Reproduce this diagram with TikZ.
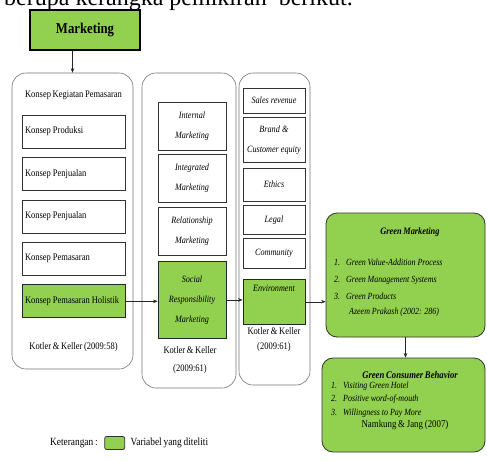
\documentclass[tikz,border=0pt]{standalone}
\usepackage{fontspec}
\setmainfont{Liberation Serif}[FakeStretch=0.85, WordSpace=0.8]
\newfontfamily\plainserif{Liberation Serif}
\usepackage{xcolor}
\usetikzlibrary{positioning,shapes,arrows.meta}
\definecolor{leafgreen}{RGB}{146,208,80}

\begin{document}
\begin{tikzpicture}[
		x=1pt, y=-1pt,
		outer/.style={rectangle, rounded corners=14pt, draw=black!55, semithick},
		block/.style={rectangle, draw=black!80, fill=white, thin, inner sep=2pt, execute at begin node={\spaceskip=0.2em plus 0.05em}},
		konsep/.style={block, minimum width=103pt, minimum height=33pt, text width=97pt, align=left, font=\fontsize{10}{12}\selectfont},
		strat/.style={block, minimum width=68pt, text width=64pt, align=center, font=\fontsize{9.6}{20}\selectfont\itshape},
		aspek/.style={block, minimum width=62pt, text width=58pt, align=center, font=\fontsize{9.6}{20}\selectfont\itshape},
		chosen/.style={fill=leafgreen, draw=black!85, thick},
		result/.style={rectangle, rounded corners=11pt, draw=black!80, fill=leafgreen, thick},
		caption/.style={align=center, font=\fontsize{10}{18}\selectfont},
		listing/.style={align=left, inner sep=0pt, font=\fontsize{9.4}{17}\selectfont\itshape, execute at begin node={\spaceskip=0.2em plus 0.05em}},
		flow/.style={-{Stealth[length=4.5pt, width=3.5pt]}, thin, black!85},
		auto,
		]
		\useasboundingbox (0,0) rectangle (487,461);

		%Heading
		\node[anchor=base west, inner sep=0pt, font=\plainserif\fontsize{24}{24}\selectfont] (intro) at (4,5) {berupa kerangka pemikiran\ \ berikut.};
		\node[rectangle, draw=black, line width=1.6pt, fill=leafgreen, minimum width=110pt, minimum height=40pt, font=\fontsize{15}{18}\selectfont\bfseries] (marketing) at (85,30) {Marketing};

		%Outer Boxes
		\node[outer, minimum width=121pt, minimum height=296pt] (kegiatan) at (72.5,221) {};
		\node[outer, minimum width=94pt, minimum height=315pt] (strategi) at (189,230.5) {};
		\node[outer, minimum width=71pt, minimum height=312pt] (aspek_box) at (274.5,229) {};

		%Konsep Kegiatan Pemasaran
		\node[caption]	(kegiatan_title)	at (73.5,95)	{Konsep Kegiatan Pemasaran};
		\node[konsep]	(produksi)		at (73.5,131.5)	{Konsep Produksi};
		\node[konsep]	(penjualan_1)	[below=9pt of produksi]		{Konsep Penjualan};
		\node[konsep]	(penjualan_2)	[below=9pt of penjualan_1]	{Konsep Penjualan};
		\node[konsep]	(pemasaran)		[below=9pt of penjualan_2]	{Konsep Pemasaran};
		\node[konsep, chosen]	(holistik)	[below=9pt of pemasaran]	{Konsep Pemasaran Holistik};
		\node[caption]	(kegiatan_ref)	at (73.5,347)	{Kotler \& Keller (2009:58)};

		%Holistic Marketing
		\node[strat, minimum height=48pt]	(internal)		at (192,126)	{Internal\\Marketing};
		\node[strat, minimum height=48pt]	(integrated)	[below=4pt of internal]		{Integrated\\Marketing};
		\node[strat, minimum height=48pt]	(relationship)	[below=4pt of integrated]	{Relationship\\Marketing};
		\node[strat, chosen, minimum height=77pt]	(social)	[below=6pt of relationship]	{Social\\Responsibility\\Marketing};
		\node[caption]	(strategi_ref)	at (190,360)	{Kotler \& Keller\\(2009:61)};

		%Social Responsibility
		\node[aspek, minimum height=25pt]	(sales)		at (274,100.5)	{Sales revenue};
		\node[aspek, minimum height=45pt]	(brand)		[below=4pt of sales]	{Brand \&\\Customer equity};
		\node[aspek, minimum height=33pt]	(ethics)	[below=5pt of brand]	{Ethics};
		\node[aspek, minimum height=29pt]	(legal)		[below=4pt of ethics]	{Legal};
		\node[aspek, minimum height=30pt]	(community)	[below=4pt of legal]	{Community};
		\node[aspek, chosen, minimum height=45pt, text depth=26pt]	(envir)	[below=10pt of community]	{Environment};
		\node[caption, font=\fontsize{10}{15}\selectfont]	(aspek_ref)	at (274,340)	{Kotler \& Keller\\(2009:61)};

		%Green Marketing
		\node[result, minimum width=159pt, minimum height=124pt]	(gm)	at (405.5,275)	{};
		\node[font=\fontsize{9.8}{12}\selectfont\bfseries\itshape]	(gm_title)	at (410,232)	{Green Marketing};
		\node[listing, anchor=north west]	(gm_list)	at (334,258.5)	{1.\hspace{6pt}Green Value-Addition Process\\2.\hspace{6pt}Green Management Systems\\3.\hspace{6pt}Green Products\\[-2pt]\hspace*{15pt}Azeem Prakash (2002: 286)};

		%Green Consumer Behavior
		\node[result, minimum width=163pt, minimum height=94pt]	(gcb)	at (403.5,405)	{};
		\node[font=\fontsize{10.2}{12}\selectfont\bfseries\itshape]	(gcb_title)	at (410,375)	{Green Consumer Behavior};
		\node[listing, anchor=north west, font=\fontsize{9.4}{13.5}\selectfont\itshape]	(gcb_list)	at (331,381.5)	{1.\hspace{6pt}Visiting Green Hotel\\2.\hspace{6pt}Positive word-of-mouth\\3.\hspace{6pt}Willingness to Pay More};
		\node[font=\fontsize{10.4}{12}\selectfont]	(gcb_ref)	at (405,425)	{Namkung \& Jang (2007)};

		%Legend
		\node[font=\fontsize{11}{13}\selectfont]	(keterangan)	at (74,443)	{Keterangan :};
		\node[rectangle, rounded corners=2pt, draw=black!80, fill=leafgreen, thick, minimum width=20pt, minimum height=13pt]	(legend_box)	[right=3pt of keterangan]	{};
		\node[font=\fontsize{11}{13}\selectfont]	(legend_text)	[right=2pt of legend_box]	{Variabel yang diteliti};

		%Main Lines
		\draw[flow]	(marketing.south -| kegiatan)	--	(kegiatan.north);
		\draw[flow]	(holistik.east)	--	(holistik.east -| social.west);
		\draw[flow]	(social.east)	--	(social.east -| envir.west);
		\draw[flow]	(envir.east)	--	(envir.east -| gm.west);
		\draw[flow]	(gm.south)		--	(gm.south |- gcb.north);

	\end{tikzpicture}
\end{document}
